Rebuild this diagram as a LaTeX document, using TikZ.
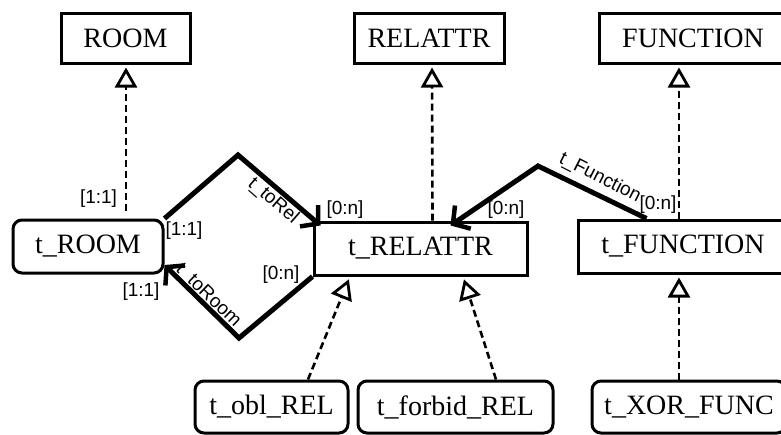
\documentclass[tikz,border=0pt]{standalone}
\usepackage{fontspec}
\setmainfont{Liberation Serif}
\newfontfamily\labfont{Liberation Sans}
\usetikzlibrary{arrows.meta,calc}
\begin{document}
\begin{tikzpicture}[x=1pt,y=-1pt,
  cls/.style={draw,line width=3pt,inner sep=0pt,minimum height=50pt,
              font=\fontsize{28}{30}\selectfont},
  rcls/.style={cls,rounded corners=9pt},
  gen/.style={line width=2.6pt,dash pattern=on 7pt off 4pt,shorten >=3pt,
              -{Triangle[open,length=20pt,width=22pt,line width=2.8pt]}},
  assoc/.style={line width=5pt,line join=miter,
              -{Straight Barb[length=12pt,width=28pt,line width=4.5pt]}},
  card/.style={inner sep=0pt,font=\labfont\fontsize{19}{21}\selectfont},
  role/.style={card,anchor=center}
]
\useasboundingbox (0,0) rectangle (781,434);

% class boxes
\node[cls,minimum width=129pt] (room)  at (125.5,38) {ROOM};
\node[cls,minimum width=150pt] (relat) at (429,38)   {RELATTR};
\node[cls,minimum width=188pt] (func)  at (693,38)   {FUNCTION};

\node[rcls,minimum width=150pt,minimum height=53pt] (troom) at (88,246.5)  {t\_ROOM};
\node[cls,minimum width=213pt,minimum height=53pt]  (trel)  at (420.5,248.5) {t\_RELATTR};
\node[cls,minimum width=210pt,minimum height=53pt]  (tfunc) at (683,246.5) {t\_FUNCTION};

\node[rcls,minimum width=153pt,minimum height=52pt] (tobl)    at (271.5,407) {t\_obl\_REL};
\node[rcls,minimum width=195pt,minimum height=52pt] (tforbid) at (455.5,407) {t\_forbid\_REL};
\node[rcls,minimum width=194pt,minimum height=52pt] (txor)    at (689,407)   {t\_XOR\_FUNC};

% generalisations
\draw[gen] ($(troom.north)+(38,-8)$) -- ($(room.south)+(0.5,0)$);
\draw[gen] ($(trel.north)+(12,0)$) -- ($(relat.south)+(3,0)$);
\draw[gen] ($(tfunc.north)+(-4,0)$) -- ($(func.south)+(-14,0)$);
\draw[gen] ($(tobl.north)+(36.5,0)$) -- ($(trel.south)+(-70.5,0)$);
\draw[gen] ($(tforbid.north)+(40.5,0)$) -- ($(trel.south)+(42.5,0)$);
\draw[gen] ($(txor.north)+(-10,0)$) -- ($(tfunc.south)+(-4,0)$);

% associations
\coordinate (bendA) at (238,155);
\coordinate (bendB) at (239,338);
\coordinate (bendC) at (538,166);
\draw[assoc] (troom.north east) -- (bendA) -- ($(trel.north west)+(8,5)$);
\draw[assoc] (trel.south west) -- (bendB) -- ($(troom.east)+(0,18.5)$);
\draw[assoc] ($(tfunc.north west)+(70,0)$) -- (bendC) -- ($(trel.north west)+(138,5)$);

% cardinalities
\node[card] (c1) at (98.5,199)  {[1:1]};
\node[card] (c2) at (184,231)   {[1:1]};
\node[card] (c3) at (141,292)   {[1:1]};
\node[card] (c4) at (281,275)   {[0:n]};
\node[card] (c5) at (345,210)   {[0:n]};
\node[card] (c6) at (506,210)   {[0:n]};
\node[card] (c7) at (658,205)   {[0:n]};

% role names
\node[role,rotate=-41] (r1) at (273,201) {t\_toRel};
\node[role,rotate=-44] (r2) at (208,296) {t\_toRoom};
\node[role,rotate=-27] (r3) at (600,178) {t\_Function};
\end{tikzpicture}
\end{document}
